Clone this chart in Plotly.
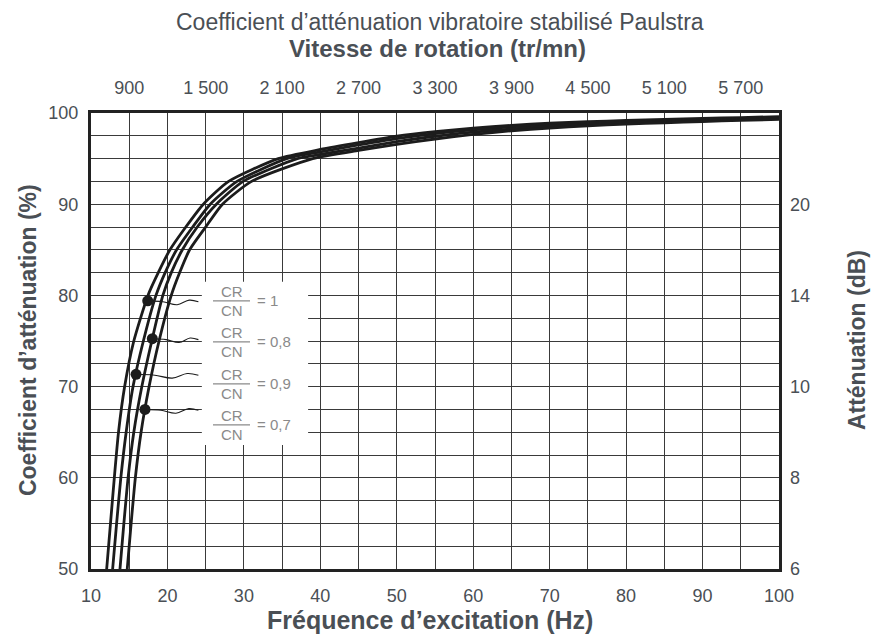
import plotly.graph_objects as go

# ---- data ----
freq_r10 = [12.05, 12.55, 13.05, 13.6, 14.4, 15.6, 17.45, 18.8, 20.33, 22.4, 24.7, 28.0, 34.5,
            40, 45, 50, 55, 60, 65, 70, 75, 80, 85, 90, 95, 100]
coef_r10 = [50, 55, 60, 65, 70, 75, 80, 82.5, 85, 87.5, 90, 92.5, 95,
            96.0, 96.75, 97.45, 97.95, 98.35, 98.65, 98.88, 99.05, 99.18, 99.3, 99.4, 99.5, 99.6]

freq_r09 = [12.83, 13.35, 13.9, 14.6, 15.5, 16.85, 18.5, 19.7, 21.2, 23.3, 25.6, 29.1, 35.6,
            40, 45, 50, 55, 60, 65, 70, 75, 80, 85, 90, 95, 100]
coef_r09 = [50, 55, 60, 65, 70, 75, 80, 82.5, 85, 87.5, 90, 92.5, 95,
            95.75, 96.5, 97.2, 97.75, 98.15, 98.48, 98.72, 98.9, 99.05, 99.18, 99.28, 99.38, 99.48]

freq_r08 = [13.79, 14.3, 14.85, 15.6, 16.65, 17.95, 19.4, 20.5, 21.95, 23.9, 26.4, 29.9, 37.0,
            40, 45, 50, 55, 60, 65, 70, 75, 80, 85, 90, 95, 100]
coef_r08 = [50, 55, 60, 65, 70, 75, 80, 82.5, 85, 87.5, 90, 92.5, 95,
            95.45, 96.15, 96.85, 97.45, 97.9, 98.25, 98.55, 98.75, 98.92, 99.05, 99.17, 99.28, 99.38]

freq_r07 = [14.74, 15.25, 15.8, 16.55, 17.6, 18.9, 20.5, 21.6, 22.9, 25.0, 27.2, 31.0, 39.0,
            45, 50, 55, 60, 65, 70, 75, 80, 85, 90, 95, 100]
coef_r07 = [50, 55, 60, 65, 70, 75, 80, 82.5, 85, 87.5, 90, 92.5, 95,
            95.9, 96.55, 97.15, 97.65, 98.05, 98.35, 98.6, 98.78, 98.93, 99.07, 99.2, 99.3]

freq_ticks = [10, 20, 30, 40, 50, 60, 70, 80, 90, 100]
coef_ticks = [50, 60, 70, 80, 90, 100]
rotation_ticks = [900, 1500, 2100, 2700, 3300, 3900, 4500, 5100, 5700]
rotation_labels = ["900", "1 500", "2 100", "2 700", "3 300", "3 900", "4 500", "5 100", "5 700"]
db_ticks = [50, 60, 70, 80, 90]
db_labels = ["6", "8", "10", "14", "20"]

legend_ratios = ["1", "0,8", "0,9", "0,7"]
dot_freq = [17.42, 18.02, 15.89, 17.06]
dot_coef = [79.4, 75.25, 71.35, 67.5]
label_coef = [79.4, 74.9, 70.3, 65.8]

# ---- style ----
INK = "#1c1c1c"
TXT = "#4a4f55"
GREY = "#8a8a8a"
GRID = "#3a3a3a"
FONT = "Liberation Sans, Arial, sans-serif"

fig = go.Figure()

for fx, cy in [(freq_r10, coef_r10), (freq_r09, coef_r09), (freq_r08, coef_r08), (freq_r07, coef_r07)]:
    fig.add_trace(go.Scatter(x=fx, y=cy, mode="lines",
                             line=dict(color=INK, width=2.8, shape="spline", smoothing=0.6),
                             hoverinfo="skip", showlegend=False))

# wavy leader lines from the dots to the labels
leader_end = 24.05
for fx, fy in zip(dot_freq, dot_coef):
    span = leader_end - fx
    xs = [fx, fx + 0.3 * span, fx + 0.58 * span, fx + 0.82 * span, leader_end]
    ys = [fy, fy - 0.1, fy - 0.42, fy + 0.08, fy - 0.1]
    fig.add_trace(go.Scatter(x=xs, y=ys, mode="lines",
                             line=dict(color=INK, width=1.1, shape="spline", smoothing=1.0),
                             hoverinfo="skip", showlegend=False))

fig.add_trace(go.Scatter(x=dot_freq, y=dot_coef, mode="markers",
                         marker=dict(color=INK, size=11), hoverinfo="skip", showlegend=False))

# invisible traces to activate secondary axes
fig.add_trace(go.Scatter(x=rotation_ticks, y=[None] * len(rotation_ticks), xaxis="x2", yaxis="y",
                         mode="markers", showlegend=False, hoverinfo="skip"))
fig.add_trace(go.Scatter(x=[None] * len(db_ticks), y=db_ticks, xaxis="x", yaxis="y2",
                         mode="markers", showlegend=False, hoverinfo="skip"))

shapes = [dict(type="rect", xref="x", yref="y", x0=24.5, x1=38.4, y0=63.6, y1=81.5,
               fillcolor="white", line=dict(width=0), layer="between")]
annotations = []
for ratio, ly in zip(legend_ratios, label_coef):
    shapes.append(dict(type="line", xref="x", yref="y", x0=25.96, x1=30.8, y0=ly, y1=ly,
                       line=dict(color=GREY, width=1.2)))
    annotations.append(dict(x=28.38, y=ly + 1.0, xref="x", yref="y", text="CR", showarrow=False,
                            font=dict(size=15, color=GREY, family=FONT), xanchor="center", yanchor="middle"))
    annotations.append(dict(x=28.38, y=ly - 1.05, xref="x", yref="y", text="CN", showarrow=False,
                            font=dict(size=15, color=GREY, family=FONT), xanchor="center", yanchor="middle"))
    annotations.append(dict(x=31.45, y=ly, xref="x", yref="y", text="= " + ratio, showarrow=False,
                            font=dict(size=15, color=GREY, family=FONT), xanchor="left", yanchor="middle"))

# titles
annotations += [
    dict(x=0.507, y=1.1996, xref="paper", yref="paper", showarrow=False,
         text="Coefficient d’atténuation vibratoire stabilisé Paulstra",
         font=dict(size=23, color=TXT, family=FONT), xanchor="center", yanchor="middle"),
    dict(x=0.503, y=1.1425, xref="paper", yref="paper", showarrow=False,
         text="<b>Vitesse de rotation (tr/mn)</b>",
         font=dict(size=24, color=TXT, family=FONT), xanchor="center", yanchor="middle"),
    dict(x=0.493, y=-0.1118, xref="paper", yref="paper", showarrow=False,
         text="<b>Fréquence d’excitation (Hz)</b>",
         font=dict(size=25, color=TXT, family=FONT), xanchor="center", yanchor="middle"),
    dict(x=-0.0916, y=0.502, xref="paper", yref="paper", showarrow=False, textangle=-90,
         text="<b>Coefficient d’atténuation (%)</b>",
         font=dict(size=23, color=TXT, family=FONT), xanchor="center", yanchor="middle"),
    dict(x=1.1134, y=0.502, xref="paper", yref="paper", showarrow=False, textangle=-90,
         text="<b>Atténuation (dB)</b>",
         font=dict(size=23, color=TXT, family=FONT), xanchor="center", yanchor="middle"),
]

tickfont = dict(size=18, color=TXT, family=FONT)
fig.update_layout(
    width=875, height=635,
    margin=dict(l=91, r=96, t=113, b=66),
    paper_bgcolor="white", plot_bgcolor="white",
    font=dict(family=FONT, color=TXT),
    showlegend=False,
    shapes=shapes,
    annotations=annotations,
    xaxis=dict(range=[10, 100], tickvals=freq_ticks, ticks="", tickfont=tickfont,
               showgrid=True, gridcolor=GRID, gridwidth=1,
               minor=dict(dtick=5, tick0=10, showgrid=True, gridcolor=GRID, gridwidth=1),
               showline=True, linewidth=3, linecolor="#222", mirror=True, zeroline=False,
               ticklabelstandoff=8),
    yaxis=dict(range=[50, 100], tickvals=coef_ticks, ticks="", tickfont=tickfont,
               showgrid=True, gridcolor=GRID, gridwidth=1,
               minor=dict(dtick=2.5, tick0=50, showgrid=True, gridcolor=GRID, gridwidth=1),
               showline=True, linewidth=3, linecolor="#222", mirror=True, zeroline=False,
               ticklabelstandoff=6),
    xaxis2=dict(range=[600, 6000], overlaying="x", side="top", tickvals=rotation_ticks,
                ticktext=rotation_labels, ticks="", tickfont=tickfont, showgrid=False,
                zeroline=False, showline=False, ticklabelstandoff=14),
    yaxis2=dict(range=[50, 100], overlaying="y", side="right", tickvals=db_ticks,
                ticktext=db_labels, ticks="", tickfont=tickfont, showgrid=False,
                zeroline=False, showline=False, ticklabelstandoff=10),
)

fig.write_html("out.html", config={"displayModeBar": False},
               post_script="document.body.style.margin='0';")
